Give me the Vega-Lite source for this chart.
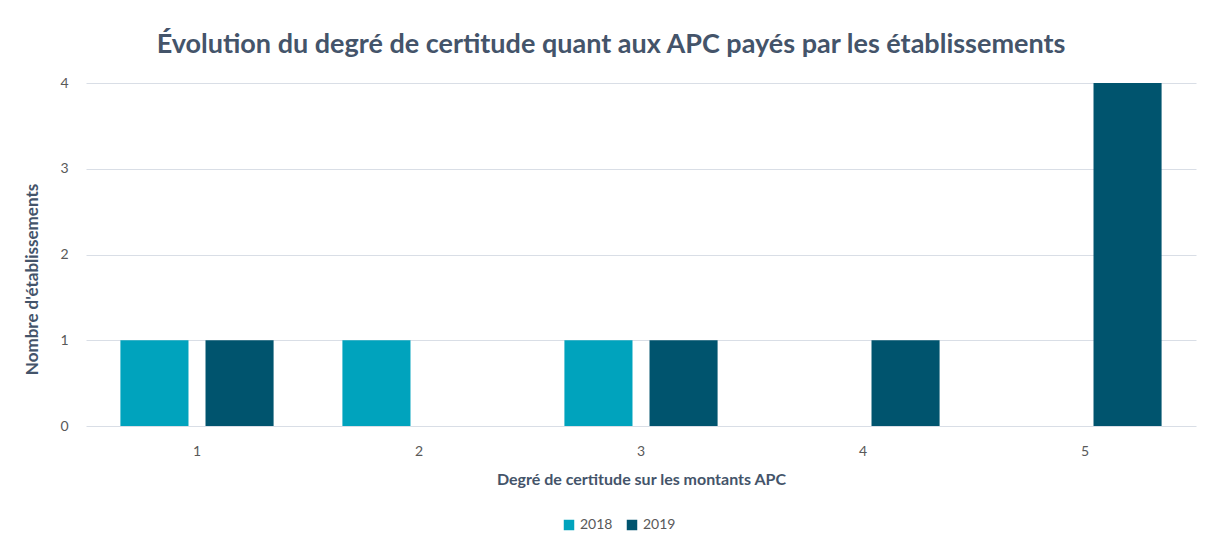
{
  "$schema": "https://vega.github.io/schema/vega-lite/v6.json",
  "autosize": {"type": "none"},
  "width": 1110,
  "height": 343,
  "padding": {"left": 86, "top": 83, "right": 16, "bottom": 122},
  "background": "white",
  "title": {
    "text": "Évolution du degré de certitude quant aux APC payés par les établissements",
    "font": "Lato",
    "fontSize": 27,
    "fontWeight": "bold",
    "color": "#44546A",
    "anchor": "middle",
    "dx": -30,
    "offset": 17
  },
  "data": {
    "values": [
      {"degre": "1", "annee": "2018", "n": 1},
      {"degre": "1", "annee": "2019", "n": 1},
      {"degre": "2", "annee": "2018", "n": 1},
      {"degre": "2", "annee": "2019", "n": 0},
      {"degre": "3", "annee": "2018", "n": 1},
      {"degre": "3", "annee": "2019", "n": 1},
      {"degre": "4", "annee": "2018", "n": 0},
      {"degre": "4", "annee": "2019", "n": 1},
      {"degre": "5", "annee": "2018", "n": 0},
      {"degre": "5", "annee": "2019", "n": 4}
    ]
  },
  "mark": {"type": "bar"},
  "encoding": {
    "x": {
      "field": "degre",
      "type": "nominal",
      "scale": {"paddingInner": 0.31, "paddingOuter": 0.155},
      "axis": {
        "title": "Degré de certitude sur les montants APC",
        "labelAngle": 0,
        "domain": false,
        "ticks": false,
        "labelPadding": 18,
        "titlePadding": 13
      }
    },
    "xOffset": {"field": "annee", "type": "nominal", "scale": {"paddingInner": 0.2}},
    "y": {
      "field": "n",
      "type": "quantitative",
      "scale": {"domain": [0, 4]},
      "axis": {
        "title": "Nombre d'établissements",
        "titleFontSize": 17,
        "titleY": 196,
        "values": [0, 1, 2, 3, 4],
        "domain": false,
        "ticks": false,
        "labelPadding": 18,
        "titlePadding": 18
      }
    },
    "color": {
      "field": "annee",
      "type": "nominal",
      "scale": {"domain": ["2018", "2019"], "range": ["#00A3BD", "#00546E"]},
      "legend": {
        "title": null,
        "orient": "none",
        "legendX": 476,
        "legendY": 435,
        "direction": "horizontal",
        "symbolType": "square",
        "symbolSize": 110,
        "symbolStrokeWidth": 0,
        "labelFontSize": 14,
        "columnPadding": 12
      }
    }
  },
  "config": {
    "view": {"stroke": null},
    "font": "Lato",
    "axis": {
      "gridColor": "#D9DEE6",
      "gridWidth": 1,
      "labelFont": "Lato",
      "labelFontSize": 14,
      "labelColor": "#595959",
      "titleFont": "Lato",
      "titleFontSize": 16,
      "titleFontWeight": "bold",
      "titleColor": "#44546A"
    },
    "axisX": {"grid": false},
    "legend": {"labelFont": "Lato", "labelColor": "#595959"}
  }
}
